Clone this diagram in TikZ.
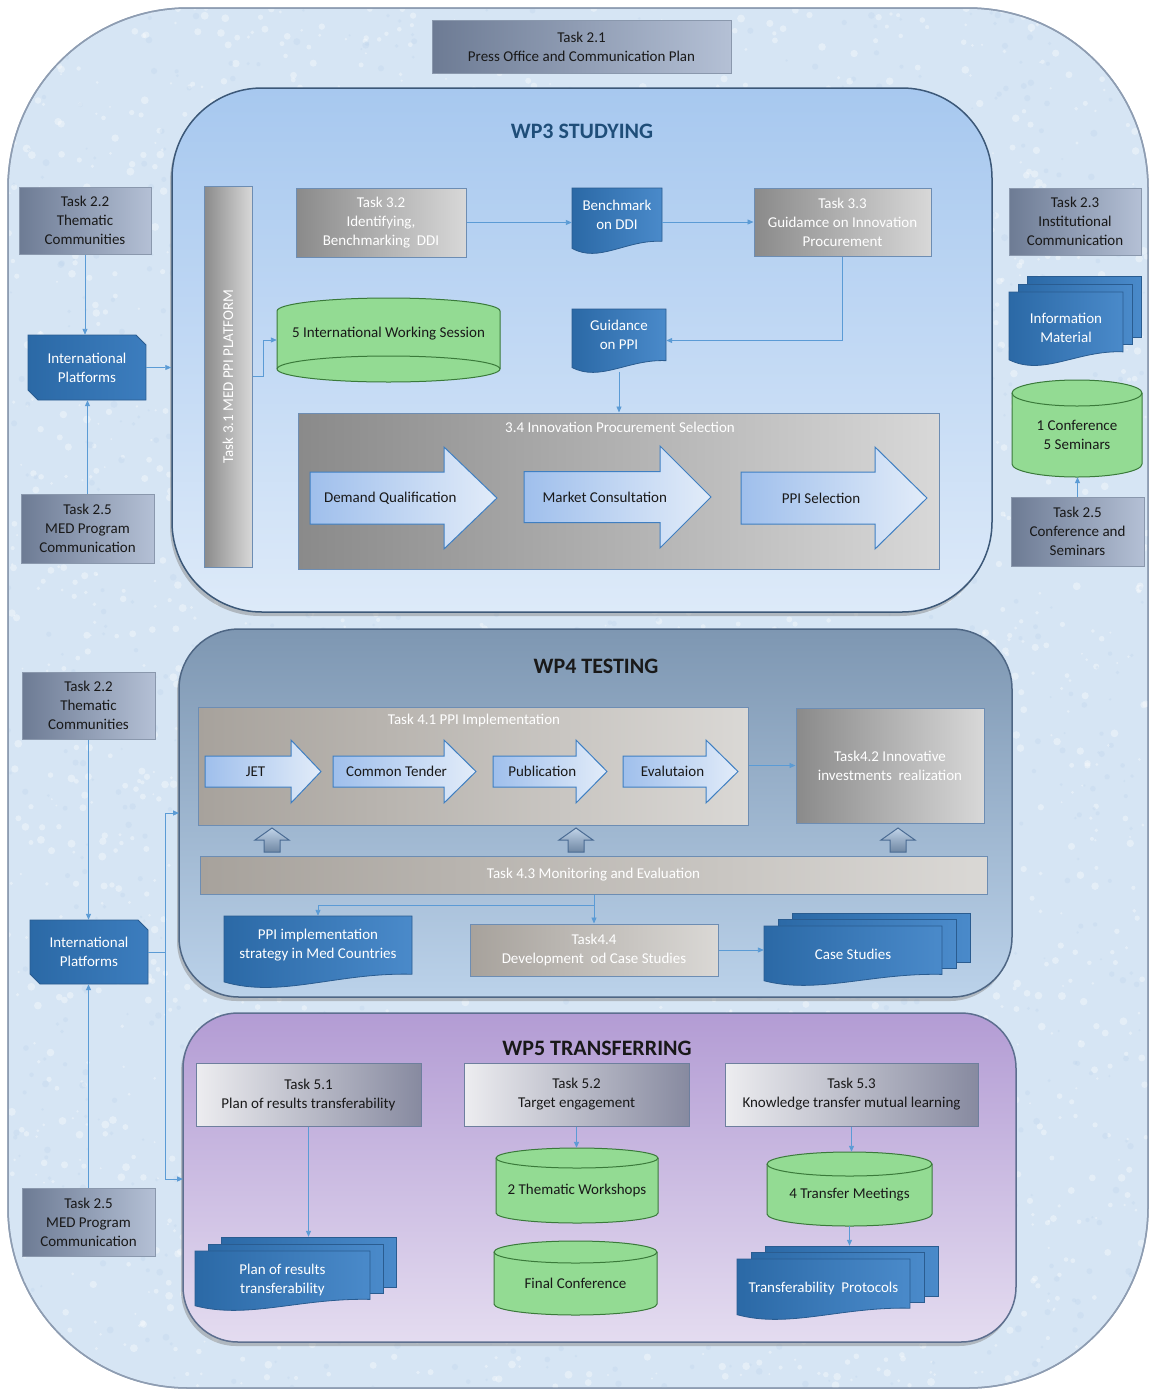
\documentclass[tikz,border=0pt]{standalone}
\usepackage{fontspec}
\setmainfont{Carlito}
\usetikzlibrary{calc,arrows.meta,shadows}
\definecolor{bgblue}{HTML}{D6E5F4}
\definecolor{bgborder}{HTML}{8E9DB2}
\definecolor{bgspeck}{HTML}{BCD3EC}
\definecolor{slateL}{HTML}{6D7B94}
\definecolor{slateR}{HTML}{B4C0D5}
\definecolor{slateb}{HTML}{8A98AD}
\definecolor{greyL}{HTML}{8A8A8A}
\definecolor{greyR}{HTML}{D8D8D8}
\definecolor{greyb}{HTML}{6D8DB3}
\definecolor{tanL}{HTML}{A7A29C}
\definecolor{tanR}{HTML}{DAD8D5}
\definecolor{wpthreeT}{HTML}{A7C8EF}
\definecolor{wpthreeB}{HTML}{DDEAF9}
\definecolor{wpthreeb}{HTML}{3C5878}
\definecolor{wpthreetitle}{HTML}{1F4E79}
\definecolor{wpfourT}{HTML}{7E97B2}
\definecolor{wpfourB}{HTML}{BBD2EA}
\definecolor{wpfourb}{HTML}{4E6684}
\definecolor{wpfiveT}{HTML}{B39CD4}
\definecolor{wpfiveB}{HTML}{E4DCF0}
\definecolor{wpfiveb}{HTML}{5D6F8F}
\definecolor{fiveL}{HTML}{EDEDF0}
\definecolor{fiveR}{HTML}{878AA0}
\definecolor{fiveb}{HTML}{6E7F9E}
\definecolor{docL}{HTML}{2B69A6}
\definecolor{docR}{HTML}{4A8ACA}
\definecolor{docb}{HTML}{2A5C90}
\definecolor{snipR}{HTML}{3C7DBE}
\definecolor{snipb}{HTML}{2A5C90}
\definecolor{cylg}{HTML}{93DB93}
\definecolor{cylb}{HTML}{3A7A3A}
\definecolor{arrL}{HTML}{9FBFEC}
\definecolor{arrR}{HTML}{E2ECF9}
\definecolor{arrb}{HTML}{3F7FC2}
\definecolor{upT}{HTML}{C0D3E8}
\definecolor{upB}{HTML}{6F87A3}
\definecolor{upb}{HTML}{4A6B93}
\definecolor{connc}{HTML}{5B9BD5}
\newcommand\myfs{\fontsize{15}{19}\selectfont}
\newcommand\mytitlefs{\fontsize{22}{26}\selectfont\bfseries}
\tikzset{
  conn/.style={draw=connc, line width=0.9pt, -{Triangle[length=6pt,width=5pt]}},
  txtw/.style={text=white, align=center, font=\myfs, inner sep=0pt},
  txtk/.style={text=black!90, align=center, font=\myfs, inner sep=0pt},
  slate/.style={draw=slateb, line width=1pt, left color=slateL, right color=slateR, txtk},
  greybox/.style={draw=greyb, line width=1pt, left color=greyL, right color=greyR, txtw},
  tanbox/.style={draw=greyb, line width=1pt, left color=tanL, right color=tanR, txtw},
  fivebox/.style={draw=fiveb, line width=1pt, left color=fiveL, right color=fiveR, txtk},
  docsty/.style={draw=docb, line width=0.8pt, left color=docL, right color=docR},
  cylsty/.style={draw=cylb, line width=1pt, fill=cylg},
  cyledge/.style={draw=cylb, line width=1pt},
  barrow/.style={draw=arrb, line width=1pt, left color=arrL, right color=arrR},
  upsty/.style={draw=upb, line width=1pt, top color=upT, bottom color=upB},
  snipsty/.style={draw=snipb, line width=0.8pt, left color=docL, right color=snipR},
  ghost/.style={inner sep=0pt},
  wptitle/.style={font=\mytitlefs, inner sep=0pt},
  bgsty/.style={fill=bgblue, draw=bgborder, line width=1.5pt, rounded corners=180pt},
  bgline/.style={draw=bgborder, line width=1.5pt, rounded corners=180pt},
  wpthree/.style={draw=wpthreeb, line width=1.5pt, top color=wpthreeT, bottom color=wpthreeB, rounded corners=90pt, drop shadow={shadow xshift=-2pt, shadow yshift=-4pt, opacity=0.45}},
  wpfour/.style={draw=wpfourb, line width=1.5pt, top color=wpfourT, bottom color=wpfourB, rounded corners=60pt, drop shadow={shadow xshift=-2pt, shadow yshift=-4pt, opacity=0.45}},
  wpfive/.style={draw=wpfiveb, line width=1.5pt, top color=wpfiveT, bottom color=wpfiveB, rounded corners=55pt, drop shadow={shadow xshift=-2pt, shadow yshift=-4pt, opacity=0.45}},
}
% box node from corners
\newcommand\boxnode[7]{%
  \pgfmathsetmacro\BNw{#5-#3}\pgfmathsetmacro\BNh{#6-#4}%
  \pgfmathsetmacro\BNx{(#3+#5)/2}\pgfmathsetmacro\BNy{(#4+#6)/2}%
  \node[#2, minimum width=\BNw pt, minimum height=\BNh pt, inner sep=0pt] (#1) at (\BNx,\BNy) {#7};}
% document outline with wavy bottom
\newcommand\docshape[5]{%
  \pgfmathsetmacro\DSA{0.18*(#5-#3)}%
  \pgfmathsetmacro\DSW{#4-#2}%
  \pgfmathsetmacro\DSyR{#5-\DSA}%
  \pgfmathsetmacro\DSyL{#5-0.4*\DSA}%
  \pgfmathsetmacro\DSax{#2+0.6*\DSW}\pgfmathsetmacro\DSay{#5-1.15*\DSA}%
  \pgfmathsetmacro\DSbx{#2+0.3*\DSW}\pgfmathsetmacro\DSby{#5+0.9*\DSA}%
  \draw[#1] (#2,#3) -- (#4,#3) -- (#4,\DSyR) .. controls (\DSax,\DSay) and (\DSbx,\DSby) .. (#2,\DSyL) -- cycle;}
\newcommand\docnode[6]{% name x1 y1 x2 y2 text
  \docshape{docsty}{#2}{#3}{#4}{#5}%
  \boxnode{#1}{ghost}{#2}{#3}{#4}{#5}{}%
  \pgfmathsetmacro\DNx{(#2+#4)/2}\pgfmathsetmacro\DNy{(#3+#5)/2-6}%
  \node[txtw] (#1t) at (\DNx,\DNy) {#6};}
\newcommand\multidoc[8]{% name x1 y1 x2 y2 dx dy text
  \pgfmathsetmacro\MDh{#5-#3}%
  \pgfmathsetmacro\MDbx{#2+2*#6}\pgfmathsetmacro\MDbb{#5-0.31*\MDh}%
  \draw[docsty] (\MDbx,#3) rectangle (#4,\MDbb);
  \pgfmathsetmacro\MDmx{#2+#6}\pgfmathsetmacro\MDmr{#4-#6}\pgfmathsetmacro\MDmt{#3+#7}\pgfmathsetmacro\MDmb{#5-0.23*\MDh}%
  \draw[docsty] (\MDmx,\MDmt) rectangle (\MDmr,\MDmb);
  \pgfmathsetmacro\MDfr{#4-2*#6}\pgfmathsetmacro\MDft{#3+2*#7}%
  \docshape{docsty}{#2}{\MDft}{\MDfr}{#5}%
  \boxnode{#1}{ghost}{#2}{#3}{#4}{#5}{}%
  \pgfmathsetmacro\MDx{(#2+#4)/2-#6}\pgfmathsetmacro\MDy{(#3+#5)/2+#7-1}%
  \node[txtw] (#1t) at (\MDx,\MDy) {#8};}
\newcommand\cylnode[8]{% name x1 y1 x2 y2 e flip text
  \pgfmathsetmacro\CYm{(#2+#4)/2}\pgfmathsetmacro\CYr{(#4-#2)/2}%
  \pgfmathsetmacro\CYt{#3+#6}\pgfmathsetmacro\CYb{#5-#6}%
  \pgfmathsetmacro\CYkx{0.5523*\CYr}\pgfmathsetmacro\CYky{0.5523*#6}%
  \pgfmathsetmacro\CYmL{\CYm-\CYkx}\pgfmathsetmacro\CYmR{\CYm+\CYkx}%
  \pgfmathsetmacro\CYbk{\CYb+\CYky}\pgfmathsetmacro\CYtk{\CYt-\CYky}%
  \draw[cylsty] (#2,\CYt) -- (#2,\CYb) .. controls (#2,\CYbk) and (\CYmL,#5) .. (\CYm,#5) .. controls (\CYmR,#5) and (#4,\CYbk) .. (#4,\CYb) -- (#4,\CYt) .. controls (#4,\CYtk) and (\CYmR,#3) .. (\CYm,#3) .. controls (\CYmL,#3) and (#2,\CYtk) .. (#2,\CYt) -- cycle;
  \ifnum#7=1
    \pgfmathsetmacro\CYi{#5-2*#6}\pgfmathsetmacro\CYik{\CYb-\CYky}%
    \draw[cyledge] (#2,\CYb) .. controls (#2,\CYik) and (\CYmL,\CYi) .. (\CYm,\CYi) .. controls (\CYmR,\CYi) and (#4,\CYik) .. (#4,\CYb);
    \pgfmathsetmacro\CYty{(#3+#5)/2-#6/2}%
  \else
    \pgfmathsetmacro\CYi{#3+2*#6}\pgfmathsetmacro\CYik{\CYt+\CYky}%
    \draw[cyledge] (#2,\CYt) .. controls (#2,\CYik) and (\CYmL,\CYi) .. (\CYm,\CYi) .. controls (\CYmR,\CYi) and (#4,\CYik) .. (#4,\CYt);
    \pgfmathsetmacro\CYty{(#3+#5)/2+#6/2}%
  \fi
  \boxnode{#1}{ghost}{#2}{#3}{#4}{#5}{}%
  \node[txtk] (#1t) at (\CYm,\CYty) {#8};}
\newcommand\snipnode[6]{% name x1 y1 x2 y2 text
  \pgfmathsetmacro\SNa{#4-10}\pgfmathsetmacro\SNb{#3+10}%
  \pgfmathsetmacro\SNc{#2+10}\pgfmathsetmacro\SNd{#5-10}%
  \draw[snipsty] (#2,#3) -- (\SNa,#3) -- (#4,\SNb) -- (#4,#5) -- (\SNc,#5) -- (#2,\SNd) -- cycle;
  \boxnode{#1}{ghost, txtw}{#2}{#3}{#4}{#5}{#6}}
\newcommand\blockarrow[8]{% name x1 xh x2 yc shafthalf headhalf text
  \pgfmathsetmacro\BAa{#5-#6}\pgfmathsetmacro\BAb{#5+#6}%
  \pgfmathsetmacro\BAc{#5-#7}\pgfmathsetmacro\BAd{#5+#7}%
  \draw[barrow] (#2,\BAa) -- (#3,\BAa) -- (#3,\BAc) -- (#4,#5) -- (#3,\BAd) -- (#3,\BAb) -- (#2,\BAb) -- cycle;
  \pgfmathsetmacro\BAx{(#2+#3)/2+(#4-#3)/4}%
  \node[txtk] (#1) at (\BAx,#5) {#8};}
\newcommand\UpBlock[3]{% xc ytop ybottom
  \pgfmathsetmacro\UBa{#1+17}\pgfmathsetmacro\UBb{#1-17}%
  \pgfmathsetmacro\UBc{#1+8}\pgfmathsetmacro\UBd{#1-8}\pgfmathsetmacro\UBe{#2+12}%
  \draw[upsty] (#1,#2) -- (\UBa,\UBe) -- (\UBc,\UBe) -- (\UBc,#3) -- (\UBd,#3) -- (\UBd,\UBe) -- (\UBb,\UBe) -- cycle;}
\begin{document}
\begin{tikzpicture}[x=1pt,y=-1pt]
\useasboundingbox (0,0) rectangle (1150,1390);
\boxnode{BG}{bgsty}{8}{8}{1148}{1388}{}
% frosty texture of the background
\begin{scope}
  \clip[rounded corners=180pt] (8,8) rectangle (1148,1388);
  \pgfmathsetseed{4242}
  \foreach \k in {1,...,2600}{%
    \pgfmathsetmacro\sx{8+rnd*1140}%
    \pgfmathsetmacro\sy{8+rnd*1380}%
    \pgfmathsetmacro\sr{1+rnd*3}%
    \fill[white, opacity=0.35] (\sx,\sy) circle[radius=\sr pt];
  }
  \foreach \k in {1,...,1400}{%
    \pgfmathsetmacro\sx{8+rnd*1140}%
    \pgfmathsetmacro\sy{8+rnd*1380}%
    \pgfmathsetmacro\sr{1+rnd*2.5}%
    \fill[bgspeck, opacity=0.3] (\sx,\sy) circle[radius=\sr pt];
  }
\end{scope}
\draw[bgline] (8,8) rectangle (1148,1388);
% ---------- top ----------
\boxnode{T21}{slate}{432}{20}{731}{73}{Task 2.1\\Press Office and Communication Plan}
% ---------- WP3 ----------
\boxnode{WP3}{wpthree}{172}{88}{992}{612}{}
\node[wptitle, text=wpthreetitle] (WP3t) at (582,131) {WP3 STUDYING};
\boxnode{T31}{greybox}{204}{186}{252}{567}{}
\node[txtw, rotate=90] (T31t) at (T31.center) {Task 3.1 MED PPI PLATFORM};
\boxnode{T32}{greybox}{296}{188}{466}{257}{Task 3.2\\Identifying,\\Benchmarking~~DDI}
\docnode{Bench}{572}{188}{662}{253}{Benchmark\\on DDI}
\boxnode{T33}{greybox}{754}{188}{931}{256}{Task 3.3\\Guidamce on Innovation\\Procurement}
\docnode{GPPI}{572}{309}{666}{372}{Guidance\\on PPI}
\cylnode{IWS}{277}{298}{500}{382}{13}{1}{5 International Working Session}
\boxnode{S34}{greybox}{298}{413}{939}{569}{}
\node[txtw] (S34t) at (620,427) {3.4 Innovation Procurement Selection};
\blockarrow{DQ}{310}{444}{497}{498}{26}{51}{Demand Qualification}
\blockarrow{MC}{524}{660}{711}{497}{25.5}{51}{Market Consultation}
\blockarrow{PS}{741}{875}{927}{498}{26}{51}{PPI Selection}
% ---------- right column ----------
\boxnode{T23}{slate}{1009}{188}{1141}{255}{Task 2.3\\Institutional\\Communication}
\multidoc{IM}{1009}{276}{1141}{365}{9}{8}{Information\\Material}
\cylnode{CONF}{1012}{380}{1142}{477}{13}{0}{1 Conference\\5 Seminars}
\boxnode{T25r}{slate}{1011}{497}{1144}{566}{Task 2.5\\Conference and\\Seminars}
% ---------- left column (top) ----------
\boxnode{T22a}{slate}{19}{187}{151}{254}{Task 2.2\\Thematic\\Communities}
\snipnode{IPa}{28}{335}{146}{400}{International\\Platforms}
\boxnode{T25a}{slate}{21}{494}{154}{563}{Task 2.5\\MED Program\\Communication}
% ---------- WP4 ----------
\boxnode{WP4}{wpfour}{179}{629}{1012}{997}{}
\node[wptitle, text=black!90] (WP4t) at (596,666) {WP4 TESTING};
\boxnode{T41}{tanbox}{198}{707}{748}{825}{}
\node[txtw] (T41t) at (474,720) {Task 4.1 PPI Implementation};
\blockarrow{JET}{205}{291}{321}{771.5}{15.5}{31.5}{JET}
\blockarrow{CT}{333}{444}{476}{771.5}{15.5}{31.5}{Common Tender}
\blockarrow{PUB}{493}{576}{607}{771.5}{15.5}{31.5}{Publication}
\blockarrow{EVA}{623}{706}{738}{771.5}{15.5}{31.5}{Evalutaion}
\boxnode{T42}{greybox}{796}{708}{984}{823}{Task4.2 Innovative\\investments~~realization}
\UpBlock{272}{828}{852}
\UpBlock{576}{828}{852}
\UpBlock{898}{828}{852}
\boxnode{T43}{tanbox}{200}{856}{987}{894}{Task 4.3 Monitoring and Evaluation}
\docnode{PPIs}{224}{916}{412}{987}{PPI implementation\\strategy in Med Countries}
\boxnode{T44}{tanbox}{470}{924}{718}{976}{Task4.4\\Development~~od Case Studies}
\multidoc{CS}{764}{913}{970}{985}{14}{6.5}{Case Studies}
% ---------- left column (bottom) ----------
\boxnode{T22b}{slate}{22}{672}{155}{739}{Task 2.2\\Thematic\\Communities}
\snipnode{IPb}{30}{920}{148}{984}{International\\Platforms}
\boxnode{T25c}{slate}{22}{1188}{155}{1256}{Task 2.5\\MED Program\\Communication}
% ---------- WP5 ----------
\boxnode{WP5}{wpfive}{183}{1013}{1016}{1342}{}
\node[wptitle, text=black!90] (WP5t) at (597,1048) {WP5 TRANSFERRING};
\boxnode{T51}{fivebox}{196}{1063}{421}{1126}{Task 5.1\\Plan of results transferability}
\boxnode{T52}{fivebox}{464}{1063}{689}{1126}{Task 5.2\\Target engagement}
\boxnode{T53}{fivebox}{725}{1063}{978}{1126}{Task 5.3\\Knowledge transfer mutual learning}
\multidoc{PRT}{195}{1237}{396}{1310}{13}{7}{Plan of results\\transferability}
\cylnode{TW}{496}{1148}{658}{1223}{10}{0}{2 Thematic Workshops}
\cylnode{FC}{494}{1241}{657}{1315}{11}{0}{Final Conference}
\cylnode{TM}{767}{1152}{932}{1226}{12}{0}{4 Transfer Meetings}
\multidoc{TP}{737}{1246}{938}{1319}{14}{6.5}{Transferability~~Protocols}
% ---------- connectors ----------
\draw[conn] (T22a.south) -- (T22a.south |- IPa.north);
\draw[conn] (T25a.north) -- (T25a.north |- IPa.south);
\draw[conn] (IPa.east) -- (IPa.east -| WP3.west);
\draw[conn] (T31.east) -- ++(11,0) |- (IWS.west);
\draw[conn] (T32.east) -- (T32.east -| Bench.west);
\draw[conn] (Bench.east |- T33.west) -- (T33.west);
\draw[conn] (T33.south) |- (GPPI.east);
\draw[conn] (GPPI.south) -- (GPPI.south |- S34.north);
\draw[conn] (T25r.north) -- (T25r.north |- CONF.south);
\draw[conn] (T41.east |- T42.west) -- (T42.west);
\coordinate (brk) at ($(T43.south -| T44.north)+(0,11)$);
\draw[conn] (T43.south -| T44.north) -- (T44.north);
\draw[conn] (brk) -| (PPIs.north);
\draw[conn] (T44.east) -- (T44.east -| CS.west);
\draw[conn] (T22b.south) -- (T22b.south |- IPb.north);
\draw[conn] (T25c.north) -- (T25c.north |- IPb.south);
\coordinate (split) at ($(IPb.east)+(17,0)$);
\coordinate (wpfourin) at (179,813);
\coordinate (wpfivein) at (183,1179);
\draw[conn] (IPb.east) -- (split) |- (wpfourin);
\draw[conn] (split) |- (wpfivein);
\draw[conn] (T51.south) -- (T51.south |- PRT.north);
\draw[conn] (T52.south) -- (T52.south |- TW.north);
\draw[conn] (T53.south) -- (T53.south |- TM.north);
\draw[conn] (TM.south) -- (TM.south |- TP.north);
\end{tikzpicture}
\end{document}
